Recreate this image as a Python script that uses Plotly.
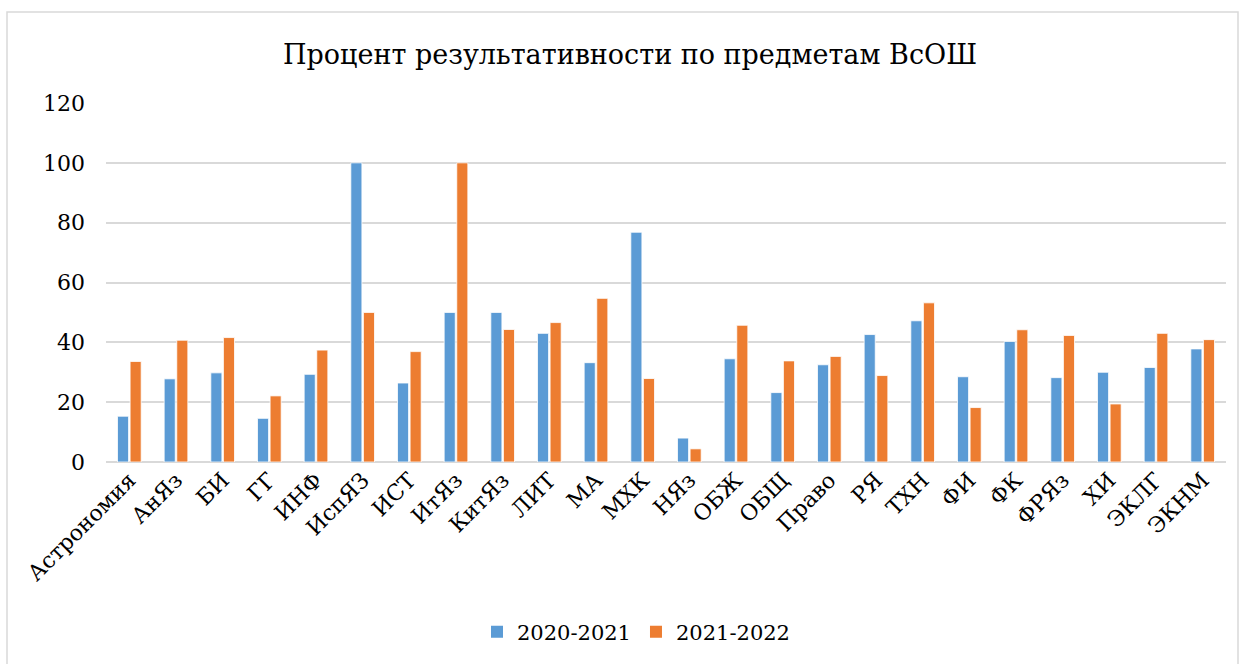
import plotly.graph_objects as go

categories = ["Астрономия", "АнЯз", "БИ", "ГГ", "ИНФ", "ИспЯЗ", "ИСТ", "ИтЯз", "КитЯз", "ЛИТ",
              "МА", "МХК", "НЯз", "ОБЖ", "ОБЩ", "Право", "РЯ", "ТХН", "ФИ", "ФК", "ФРЯз", "ХИ",
              "ЭКЛГ", "ЭКНМ"]
values_2020_2021 = [15.3, 27.8, 29.8, 14.6, 29.3, 100, 26.4, 50, 50, 43.0,
                    33.2, 76.8, 8.0, 34.5, 23.2, 32.5, 42.6, 47.2, 28.5, 40.3, 28.2, 30.0,
                    31.6, 37.8]
values_2021_2022 = [33.6, 40.7, 41.6, 22.1, 37.4, 50, 36.9, 100, 44.3, 46.6,
                    54.7, 27.9, 4.4, 45.7, 33.8, 35.3, 28.9, 53.2, 18.2, 44.2, 42.3, 19.4,
                    43.0, 40.9]
series_names = ["2020-2021", "2021-2022"]
series_colors = ["#5b9bd5", "#ed7d31"]
tick_vals = [0, 20, 40, 60, 80, 100, 120]

FONT = "DejaVu Serif"
W, H = 1243, 664
L, R, T, B = 106, 1226, 103, 462

fig = go.Figure()
for vals, name, col in zip([values_2020_2021, values_2021_2022], series_names, series_colors):
    fig.add_trace(go.Bar(x=categories, y=vals, name=name, showlegend=False,
                         marker=dict(color=col, line=dict(color="white", width=0.8))))
# legend entries with square swatches (no data drawn)
for name, col in zip(series_names, series_colors):
    fig.add_trace(go.Scatter(x=[None], y=[None], mode="markers", name=name,
                             marker=dict(symbol="square", size=12, color=col)))

pw, ph = R - L, B - T
def px(xp):
    return (xp - L) / pw
def py(yp):
    return (B - yp) / ph

fig.update_layout(
    width=W, height=H,
    margin=dict(l=L, r=W - R, t=T, b=H - B),
    paper_bgcolor="white", plot_bgcolor="white",
    barmode="group", bargap=0.46, bargroupgap=0.12,
    font=dict(family=FONT, color="#000000"),
    title=dict(text="Процент результативности по предметам ВсОШ",
               font=dict(family=FONT, size=27, color="#000000"),
               x=630 / W, xanchor="center", xref="container",
               y=1 - 55 / H, yanchor="middle", yref="container"),
    xaxis=dict(tickangle=-45, tickfont=dict(family=FONT, size=22, color="#000000"),
               showgrid=False, showline=False, zeroline=False, ticks=""),
    yaxis=dict(range=[0, 120], tickvals=tick_vals, tickfont=dict(family=FONT, size=22, color="#000000"),
               showgrid=True, gridcolor="#d9d9d9", gridwidth=1.5, zeroline=True,
               zerolinecolor="#d9d9d9", zerolinewidth=1.5, showline=False, ticks="",
               ticklabelstandoff=20),
    legend=dict(orientation="h", x=636 / W, xanchor="center", xref="container",
                y=1 - 632 / H, yanchor="middle", yref="container",
                font=dict(family=FONT, size=21, color="#000000"), itemwidth=30),
    shapes=[dict(type="rect", xref="paper", yref="paper",
                 x0=px(7), x1=px(1238), y0=py(700), y1=py(12),
                 line=dict(color="#d9d9d9", width=1.5), fillcolor="rgba(0,0,0,0)", layer="below")],
)

fig.write_html("out.html", config={"displayModeBar": False},
               post_script="document.body.style.margin='0';")
